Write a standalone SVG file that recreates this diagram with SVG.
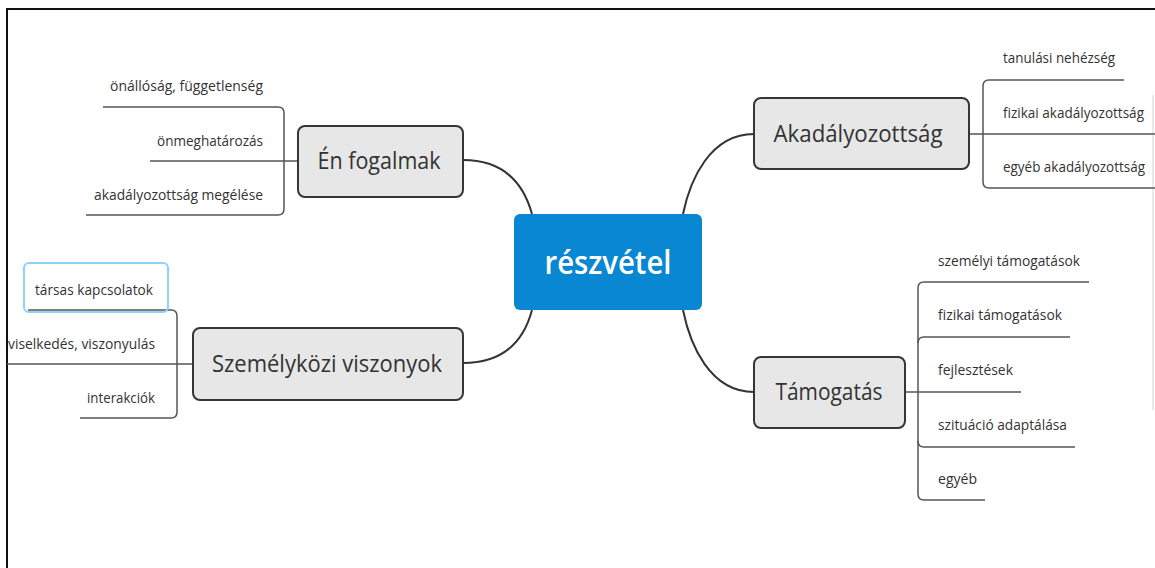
<svg xmlns="http://www.w3.org/2000/svg" width="1155" height="568" viewBox="0 0 1155 568">
<style>
.frame{fill:none;stroke:#111;stroke-width:2}
.node rect{fill:#e7e7e7;stroke:#363636;stroke-width:2}
.node text{font-family:"Open Sans","Noto Sans",sans-serif;font-size:23px;fill:#333;text-anchor:middle}
.conn{fill:none;stroke:#333;stroke-width:2}
.sub{fill:none;stroke:#555;stroke-width:1.5}
.lbl{font-family:"Open Sans","Noto Sans",sans-serif;font-size:15px;fill:#333}
.edge{font-size:14px}
.r{text-anchor:end}
</style>
<rect width="1155" height="568" fill="#fff"/>
<path class="frame" d="M7,568 V9 H1155"/>
<line x1="1153" y1="95" x2="1153" y2="410" stroke="#e2e2e2" stroke-width="1.5"/>

<g id="connectors">
  <path class="conn" d="M463,160 C505,160 524,185 532,214"/>
  <path class="conn" d="M463,363 C505,363 524,340 532,310"/>
  <path class="conn" d="M683,214 C690,180 710,134 754,134"/>
  <path class="conn" d="M683,310 C690,345 710,392 754,392"/>
  <path class="sub" d="M103,107 H278 Q284,107 284,113 V209 Q284,215 278,215 H86"/>
  <path class="sub" d="M150,161 H298"/>
  <path class="sub" d="M28,310 H171 Q177,310 177,316 V412 Q177,418 171,418 H80"/>
  <path class="sub" d="M7,364 H193"/>
  <path class="sub" d="M1124,80 H989 Q983,80 983,86 V182 Q983,188 989,188 H1155"/>
  <path class="sub" d="M969,134 H1155"/>
  <path class="sub" d="M1089,282 H924 Q918,282 918,288 V494 Q918,500 924,500 H985"/>
  <path class="sub" d="M1070,337 H924 Q918,337 918,343"/>
  <path class="sub" d="M905,392 H1021"/>
  <path class="sub" d="M1075,447 H924 Q918,447 918,441"/>
</g>

<g id="center">
  <rect x="514" y="214" width="188" height="96" rx="6" fill="#0a87d2"/>
  <text x="608" y="274" font-family="Open Sans, Noto Sans, sans-serif" font-size="33" font-weight="600" fill="#fff" text-anchor="middle" textLength="127" lengthAdjust="spacingAndGlyphs">részvétel</text>
</g>

<g id="en-fogalmak" class="node">
  <rect x="298" y="126" width="165" height="71" rx="7"/>
  <text x="379" y="169" textLength="123" lengthAdjust="spacingAndGlyphs">Én fogalmak</text>
</g>
<g id="en-sub">
  <text class="lbl r" x="263" y="91" textLength="153" lengthAdjust="spacingAndGlyphs">önállóság, függetlenség</text>
  <text class="lbl r" x="263" y="146" textLength="106" lengthAdjust="spacingAndGlyphs">önmeghatározás</text>
  <text class="lbl r" x="263" y="200" textLength="169" lengthAdjust="spacingAndGlyphs">akadályozottság megélése</text>
</g>

<g id="szemelykozi" class="node">
  <rect x="193" y="328" width="270" height="72" rx="7"/>
  <text x="327" y="372" textLength="230" lengthAdjust="spacingAndGlyphs">Személyközi viszonyok</text>
</g>
<g id="szemelykozi-sub">
  <rect x="24" y="263" width="144" height="49" rx="5" fill="none" stroke="#8cd3f5" stroke-width="2"/>
  <text class="lbl r" x="153" y="295" textLength="118" lengthAdjust="spacingAndGlyphs">társas kapcsolatok</text>
  <text class="lbl" x="8" y="349" textLength="147" lengthAdjust="spacingAndGlyphs">viselkedés, viszonyulás</text>
  <text class="lbl r" x="155" y="403" textLength="68" lengthAdjust="spacingAndGlyphs">interakciók</text>
</g>

<g id="akadalyozottsag" class="node">
  <rect x="754" y="98" width="215" height="71" rx="7"/>
  <text x="858" y="142" textLength="169" lengthAdjust="spacingAndGlyphs">Akadályozottság</text>
</g>
<g id="akad-sub">
  <text class="lbl" x="1003" y="63" textLength="112" lengthAdjust="spacingAndGlyphs">tanulási nehézség</text>
  <text class="lbl edge" x="1003" y="118" textLength="141" lengthAdjust="spacingAndGlyphs">fizikai akadályozottság</text>
  <text class="lbl edge" x="1003" y="172" textLength="142" lengthAdjust="spacingAndGlyphs">egyéb akadályozottság</text>
</g>

<g id="tamogatas" class="node">
  <rect x="754" y="357" width="151" height="71" rx="7"/>
  <text x="829" y="400" textLength="107" lengthAdjust="spacingAndGlyphs">Támogatás</text>
</g>
<g id="tam-sub">
  <text class="lbl" x="938" y="266" textLength="142" lengthAdjust="spacingAndGlyphs">személyi támogatások</text>
  <text class="lbl" x="938" y="320" textLength="124" lengthAdjust="spacingAndGlyphs">fizikai támogatások</text>
  <text class="lbl" x="938" y="375" textLength="75" lengthAdjust="spacingAndGlyphs">fejlesztések</text>
  <text class="lbl" x="938" y="430" textLength="129" lengthAdjust="spacingAndGlyphs">szituáció adaptálása</text>
  <text class="lbl" x="938" y="484" textLength="39" lengthAdjust="spacingAndGlyphs">egyéb</text>
</g>
</svg>
